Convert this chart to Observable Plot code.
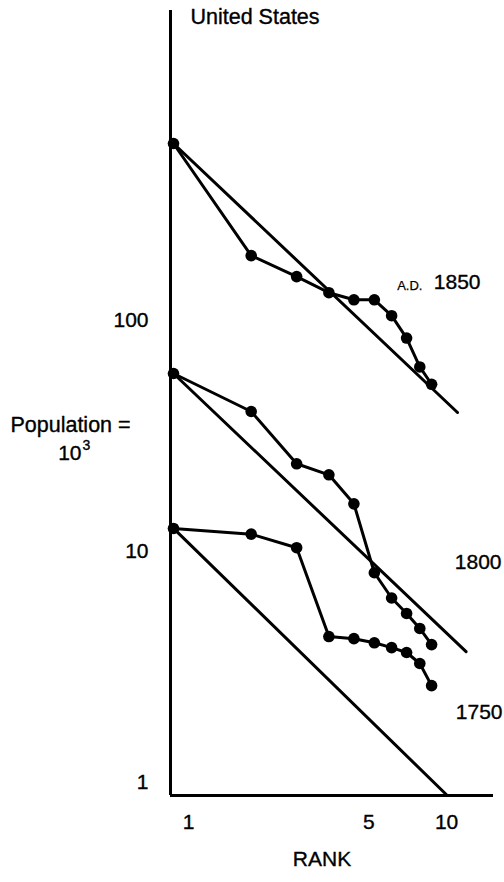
<!DOCTYPE html>
<html>
<head>
<meta charset="utf-8">
<script src="https://cdn.jsdelivr.net/npm/d3@7"></script>
<script src="https://cdn.jsdelivr.net/npm/@observablehq/plot@0.6"></script>
<style>
  html, body { margin: 0; padding: 0; background: white; }
  #chart svg { display: block; }
</style>
</head>
<body>
<div id="chart"></div>
<script>
// ---- data ----
const ranks = [1, 2, 3, 4, 5, 6, 7, 8, 9, 10];
const pop1850 = [584, 191, 155, 132, 123, 123, 105, 84, 63, 53];
const pop1800 = [59, 40.4, 24.0, 21.5, 16.1, 8.1, 6.3, 5.4, 4.65, 3.96];
const pop1750 = [12.6, 11.9, 10.4, 4.29, 4.20, 4.03, 3.84, 3.66, 3.28, 2.63];
const seriesNames = ["1850", "1800", "1750"];

// rank-size rule lines: endpoints (rank, population)
const ruleRanks1850 = [1, 12.6];
const ruleVals1850 = [584, 40];
const ruleRanks1800 = [1, 13.6];
const ruleVals1800 = [59, 3.69];
const ruleRanks1750 = [1, 11.5];
const ruleVals1750 = [12.6, 0.88];

const xTicks = [1, 5, 10];
const yTicks = [1, 10, 100];
const xDomain = [0.9736, 17.37];
const yDomain = [0.88, 2198];

// ---- tables built from the arrays ----
const seriesVals = [pop1850, pop1800, pop1750];
const points = seriesVals.flatMap((vals, i) =>
  ranks.map((r, j) => ({series: seriesNames[i], rank: r, pop: vals[j]})));
const ruleR = [ruleRanks1850, ruleRanks1800, ruleRanks1750];
const ruleV = [ruleVals1850, ruleVals1800, ruleVals1750];
const rules = ruleR.flatMap((rs, i) =>
  rs.map((r, j) => ({series: seriesNames[i], rank: r, pop: ruleV[i][j]})));

const font = "'Liberation Sans', Arial, Helvetica, sans-serif";
const T = {lineAnchor: "middle", fill: "black", stroke: "black", strokeWidth: 0.35};

const chart = Plot.plot({
  width: 504,
  height: 882,
  marginLeft: 170,
  marginRight: 11,
  marginTop: 10,
  marginBottom: 87,
  x: {type: "log", domain: xDomain, axis: null},
  y: {type: "log", domain: yDomain, axis: null},
  style: {fontFamily: font, fontSize: "21px", background: "white", color: "black", overflow: "visible"},
  marks: [
    // axis lines
    Plot.ruleX([xDomain[0]], {stroke: "black", strokeWidth: 3}),
    Plot.ruleY([yDomain[0]], {stroke: "black", strokeWidth: 3}),
    // tick labels
    Plot.text(yTicks, {...T, y: d => d, frameAnchor: "left", dx: -22, textAnchor: "end", fontSize: 21}),
    Plot.text(xTicks, {...T, x: d => d, frameAnchor: "bottom", dx: 15, dy: 27, textAnchor: "middle", fontSize: 21}),
    // rank-size rule lines
    Plot.line(rules, {x: "rank", y: "pop", z: "series", stroke: "black", strokeWidth: 3}),
    // observed series
    Plot.line(points, {x: "rank", y: "pop", z: "series", stroke: "black", strokeWidth: 3}),
    Plot.dot(points, {x: "rank", y: "pop", r: 5.8, fill: "black", stroke: "none"}),
    // title
    Plot.text(["United States"], {...T, frameAnchor: "top-left", dx: 20, dy: 7, textAnchor: "start", fontSize: 21.5}),
    // series labels
    Plot.text(["A.D."], {...T, frameAnchor: "top-right", dx: -71, dy: 275, textAnchor: "end", fontSize: 13, strokeWidth: 0.25}),
    Plot.text(["1850"], {...T, frameAnchor: "top-right", dx: -13, dy: 272, textAnchor: "end", fontSize: 21}),
    Plot.text(["1800"], {...T, frameAnchor: "top-right", dx: 8, dy: 552, textAnchor: "end", fontSize: 21}),
    Plot.text(["1750"], {...T, frameAnchor: "top-right", dx: 9, dy: 702, textAnchor: "end", fontSize: 21}),
    // y label
    Plot.text(["Population ="], {...T, frameAnchor: "left", dx: -100, dy: 22.5, textAnchor: "middle", fontSize: 21.5}),
    Plot.text(["10"], {...T, frameAnchor: "left", dx: -89, dy: 50, textAnchor: "end", fontSize: 21}),
    Plot.text(["3"], {...T, frameAnchor: "left", dx: -88, dy: 43, textAnchor: "start", fontSize: 14}),
    // x label
    Plot.text(["RANK"], {...T, frameAnchor: "bottom", dx: -10, dy: 64, textAnchor: "middle", fontSize: 21})
  ]
});
document.getElementById("chart").appendChild(chart);
</script>
</body>
</html>
